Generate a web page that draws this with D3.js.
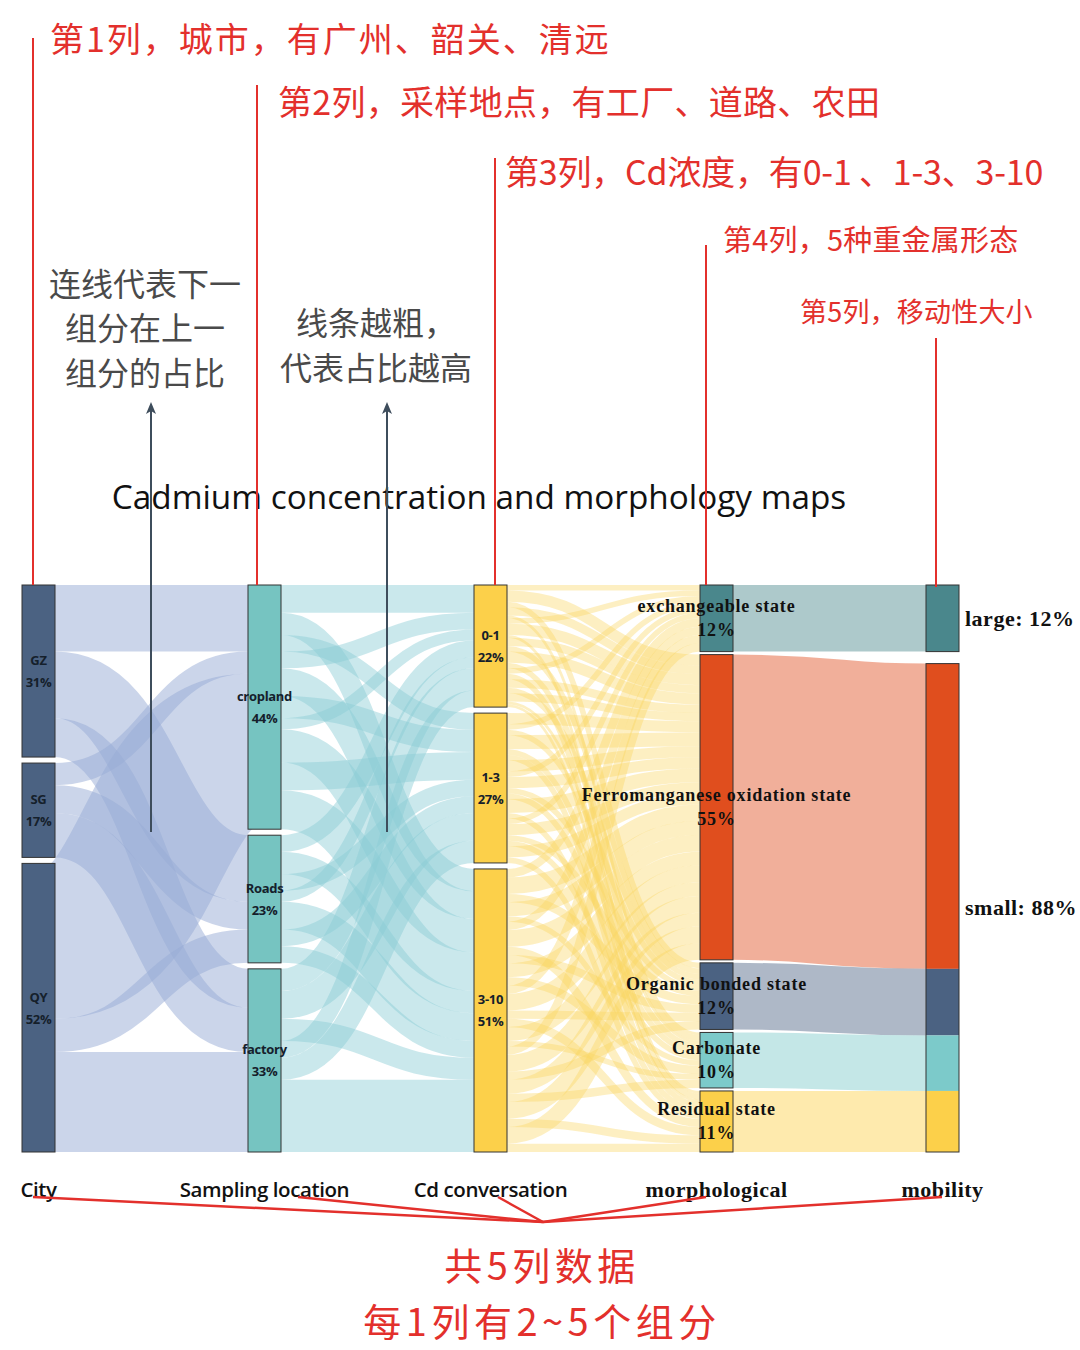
<!DOCTYPE html>
<html><head><meta charset="utf-8">
<script src="https://cdn.jsdelivr.net/npm/d3@7"></script>
<style>body{margin:0;background:#fff}svg{display:block}</style>
</head><body><svg id="c" width="1080" height="1350"></svg>
<script>
// ---------- data ----------
const columnTitles = ["City","Sampling location","Cd conversation","morphological","mobility"];
const cityNodes = ["GZ","SG","QY"];
const locationNodes = ["cropland","Roads","factory"];
const cdNodes = ["0-1","1-3","3-10"];
const morphNodes = ["exchangeable state","Ferromanganese oxidation state","Organic bonded state","Carbonate","Residual state"];
const mobilityNodes = ["large","small"];

const cityLinks = [
  ["GZ","cropland",12],["GZ","Roads",12],["GZ","factory",7],
  ["SG","cropland",4],["SG","Roads",5],["SG","factory",8],
  ["QY","cropland",28],["QY","Roads",6],["QY","factory",18]
];
const locationLinks = [
  ["cropland","0-1",5],["cropland","3-10",4],["cropland","1-3",3],["cropland","0-1",3],["cropland","3-10",5],
  ["cropland","1-3",4],["cropland","0-1",2],["cropland","3-10",6],["cropland","1-3",5],["cropland","3-10",7],
  ["Roads","0-1",3],["Roads","3-10",4],["Roads","1-3",3],["Roads","0-1",2],["Roads","3-10",5],["Roads","1-3",3],["Roads","3-10",3],
  ["factory","0-1",4],["factory","1-3",5],["factory","3-10",4],["factory","0-1",3],["factory","1-3",4],["factory","3-10",4],["factory","3-10",9]
];
const EX = "exchangeable state", FE = "Ferromanganese oxidation state", OR = "Organic bonded state", CA = "Carbonate", RE = "Residual state";
const cdLinks = [
  ["0-1",EX,1],["0-1",FE,2],["0-1",OR,1],["0-1",FE,1.5],["0-1",CA,0.5],["0-1",EX,1],["0-1",FE,2],["0-1",RE,0.5],
  ["0-1",FE,1.5],["0-1",OR,1],["0-1",FE,2],["0-1",CA,1],["0-1",EX,1],["0-1",RE,1],["0-1",FE,1.5],["0-1",OR,1],
  ["0-1",FE,1.5],["0-1",CA,0.5],["0-1",RE,0.5],
  ["1-3",FE,2],["1-3",EX,1],["1-3",OR,1],["1-3",FE,2.5],["1-3",CA,1],["1-3",RE,1],["1-3",FE,2],["1-3",EX,1],
  ["1-3",FE,2],["1-3",OR,1],["1-3",CA,1],["1-3",FE,2.5],["1-3",RE,1],["1-3",EX,1],["1-3",FE,2],["1-3",OR,1],
  ["1-3",CA,1],["1-3",FE,2],["1-3",RE,1],
  ["3-10",EX,1.5],["3-10",FE,3],["3-10",OR,1.5],["3-10",FE,2.5],["3-10",CA,1],["3-10",EX,1.5],["3-10",FE,3],
  ["3-10",RE,1.5],["3-10",OR,1.5],["3-10",FE,2.5],["3-10",CA,1.5],["3-10",EX,1.5],["3-10",FE,3],["3-10",OR,1.5],
  ["3-10",RE,1.5],["3-10",FE,2.5],["3-10",CA,1],["3-10",EX,1.5],["3-10",FE,3],["3-10",OR,1.5],["3-10",FE,2.5],
  ["3-10",CA,1.5],["3-10",FE,3],["3-10",RE,1.5],["3-10",FE,3],["3-10",RE,1.5]
];
const morphLinks = [
  [EX,"large",12],
  [FE,"small",55],
  [OR,"small",12],
  [CA,"small",10],
  [RE,"small",11]
];

const nodeColors = {
  GZ:"#4b6282", SG:"#4b6282", QY:"#4b6282",
  cropland:"#76c4c1", Roads:"#76c4c1", factory:"#76c4c1",
  "0-1":"#fcd04a","1-3":"#fcd04a","3-10":"#fcd04a",
  [EX]:"#4a878c",[FE]:"#e04e1e",[OR]:"#4b6282",[CA]:"#7ccaca",[RE]:"#fcd04a",
  large:"#4a878c", small:"#e04e1e"
};
const linkColors = ["rgb(151,172,214)","rgb(137,205,213)","rgb(250,212,95)", null];

// ---------- layout ----------
const svg = d3.select("#c");
const columnsNodes = [cityNodes, locationNodes, cdNodes, morphNodes, mobilityNodes];
const linkSets = [cityLinks, locationLinks, cdLinks, morphLinks];
const nodeW = 33, plotTop = 585, plotBottom = 1152, minGap = 3;
const x = d3.scaleLinear().domain([0, 4]).range([22, 926]);

const nodes = {};
columnsNodes.forEach((col, ci) => col.forEach(n => nodes[n] = {name:n, col:ci, value:0, outOff:0, inOff:0}));
const inSum = {}, outSum = {};
linkSets.forEach(ls => ls.forEach(([s,t,v]) => { outSum[s]=(outSum[s]||0)+v; inSum[t]=(inSum[t]||0)+v; }));
Object.values(nodes).forEach(n => n.value = Math.max(inSum[n.name]||0, outSum[n.name]||0));
const total = d3.sum(cityNodes, n => nodes[n].value);
const maxN = d3.max(columnsNodes, c => c.length);
const kyPx = (plotBottom - plotTop - (maxN - 1) * minGap) / total;
const h = d3.scaleLinear().domain([0, total]).range([0, total * kyPx]);

columnsNodes.forEach((col, ci) => {
  const sum = d3.sum(col, n => nodes[n].value);
  const gap = col.length > 1 ? ((plotBottom - plotTop) - h(sum)) / (col.length - 1) : 0;
  let y = plotTop;
  col.forEach(n => {
    const nd = nodes[n];
    nd.x0 = x(ci); nd.x1 = x(ci) + nodeW;
    nd.y0 = y; nd.y1 = y + h(nd.value);
    y = nd.y1 + gap;
  });
});

const links = [];
linkSets.forEach((ls, li) => ls.forEach(([s,t,v]) => {
  const S = nodes[s], T = nodes[t], w = h(v);
  const sy = S.y0 + S.outOff; S.outOff += w;
  const ty = T.y0 + T.inOff; T.inOff += w;
  links.push({s, t, v, w, sy, ty, li, S, T});
}));

// ---------- links ----------
const lh = d3.linkHorizontal();
const gl = svg.append("g");
links.forEach(l => {
  const col = l.li === 3 ? nodeColors[l.s] : linkColors[l.li];
  const op = l.li === 3 ? 0.45 : (l.li === 2 ? 0.38 : (l.li === 1 ? 0.45 : 0.5));
  gl.append("path")
    .attr("d", lh({source:[l.S.x1, l.sy + l.w/2], target:[l.T.x0, l.ty + l.w/2]}))
    .attr("fill","none").attr("stroke", col).attr("stroke-opacity", op)
    .attr("stroke-width", l.w);
});

// ---------- nodes ----------
const gn = svg.append("g");
Object.values(nodes).forEach(n => {
  if (n.col === 4) {
    links.filter(l => l.t === n.name).forEach(l => {
      gn.append("rect").attr("x", n.x0).attr("y", l.ty).attr("width", nodeW).attr("height", l.w)
        .attr("fill", nodeColors[l.s]);
    });
    gn.append("rect").attr("x", n.x0).attr("y", n.y0).attr("width", nodeW).attr("height", n.y1-n.y0)
      .attr("fill","none").attr("stroke","#333").attr("stroke-width",1);
  } else {
    gn.append("rect").attr("x", n.x0).attr("y", n.y0).attr("width", nodeW).attr("height", n.y1-n.y0)
      .attr("fill", nodeColors[n.name]).attr("stroke","#333").attr("stroke-width",1);
  }
});

// ---------- node labels ----------
const sans = "'Open Sans','Noto Sans',sans-serif";
const serif = "'Liberation Serif','DejaVu Serif',serif";
const gt = svg.append("g");
Object.values(nodes).forEach(n => {
  const cy = (n.y0 + n.y1) / 2, cx = (n.x0 + n.x1) / 2;
  const pct = Math.round(n.value / total * 100) + "%";
  if (n.col <= 2) {
    [[n.name, -11],[pct, 11]].forEach(([t,dy]) => gt.append("text").attr("x", cx).attr("y", cy + dy)
      .attr("text-anchor","middle").attr("dominant-baseline","central")
      .attr("font-family", sans).attr("font-weight",700).attr("font-size",13)
      .attr("letter-spacing",-0.3).attr("fill","#15202b").text(t));
  } else if (n.col === 3) {
    [[n.name, -12],[pct, 12]].forEach(([t,dy]) => gt.append("text").attr("x", cx).attr("y", cy + dy)
      .attr("text-anchor","middle").attr("dominant-baseline","central")
      .attr("font-family", serif).attr("font-weight",700).attr("font-size",18)
      .attr("letter-spacing",0.8).attr("fill","#111").text(t));
  } else {
    gt.append("text").attr("x", n.x1 + 6).attr("y", cy).attr("dominant-baseline","central")
      .attr("font-family", serif).attr("font-weight",700).attr("font-size",22)
      .attr("letter-spacing",0.5).attr("fill","#111").text(n.name + ": " + pct);
  }
});

// ---------- column titles ----------
columnTitles.forEach((t, i) => {
  svg.append("text").attr("x", x(i) + nodeW/2).attr("y", 1189).attr("text-anchor","middle")
    .attr("dominant-baseline","central")
    .attr("font-family", i < 3 ? sans : serif).attr("font-weight", i < 3 ? 600 : 700)
    .attr("font-size", i < 3 ? 20.5 : 22).attr("letter-spacing", i < 3 ? -0.4 : 0.5)
    .attr("fill","#111").text(t);
});

// ---------- title ----------
svg.append("text").attr("x", 479).attr("y", 496).attr("text-anchor","middle")
  .attr("dominant-baseline","central").attr("font-family", sans).attr("font-size",33.3)
  .attr("fill","#111").text("Cadmium concentration and morphology maps");

// ---------- annotations ----------
const cjk = "'Noto Sans CJK SC','Noto Sans',sans-serif";
const red = "#e3302c";
const redNotes = [
  {text:"第1列，城市，有广州、韶关、清远", x:50, y:37, size:34, ls:2, lx:33, ly:38, ly2:585},
  {text:"第2列，采样地点，有工厂、道路、农田", x:278, y:100, size:34, ls:0.3, lx:257, ly:85, ly2:585},
  {text:"第3列，Cd浓度，有0-1 、1-3、3-10", x:505, y:170, size:34, ls:-0.2, lx:495, ly:158, ly2:585},
  {text:"第4列，5种重金属形态", x:723, y:238, size:29, ls:0.2, lx:706, ly:245, ly2:585},
  {text:"第5列，移动性大小", x:800, y:310, size:27, ls:0.2, lx:936, ly:338, ly2:587}
];
const ga = svg.append("g");
redNotes.forEach(d => {
  ga.append("line").attr("x1", d.lx).attr("x2", d.lx).attr("y1", d.ly).attr("y2", d.ly2)
    .attr("stroke", red).attr("stroke-width", 2);
  ga.append("text").attr("x", d.x).attr("y", d.y).attr("dominant-baseline","central")
    .attr("font-family", cjk).attr("font-size", d.size).attr("letter-spacing", d.ls)
    .attr("fill", red).text(d.text);
});
const greyNotes = [
  {text:"连线代表下一", x:145, y:282}, {text:"组分在上一", x:145, y:326}, {text:"组分的占比", x:145, y:371},
  {text:"线条越粗，", x:376, y:321}, {text:"代表占比越高", x:376, y:366}
];
greyNotes.forEach(d => ga.append("text").attr("x", d.x).attr("y", d.y).attr("text-anchor","middle")
  .attr("dominant-baseline","central").attr("font-family", cjk).attr("font-size", 32)
  .attr("fill","#4a4a4a").text(d.text));
[151, 387].forEach(ax => {
  ga.append("line").attr("x1", ax).attr("x2", ax).attr("y1", 408).attr("y2", 832)
    .attr("stroke","#3e4d5c").attr("stroke-width", 2);
  ga.append("path").attr("d", `M${ax},402 L${ax-5},414 L${ax},411 L${ax+5},414 Z`).attr("fill","#3e4d5c");
});
const conv = [543, 1222];
[[33,1197],[298,1197],[498,1197],[706,1197],[942,1197]].forEach(p => ga.append("line")
  .attr("x1", p[0]).attr("y1", p[1]).attr("x2", conv[0]).attr("y2", conv[1])
  .attr("stroke", red).attr("stroke-width", 2.5));
[["共5列数据", 1263, 4.5],["每1列有2~5个组分", 1319, 4.5]].forEach(([t,y,ls]) => ga.append("text")
  .attr("x", 542).attr("y", y).attr("text-anchor","middle").attr("dominant-baseline","central")
  .attr("font-family", cjk).attr("font-size", 38).attr("letter-spacing", ls).attr("fill", red).text(t));
</script></body></html>
